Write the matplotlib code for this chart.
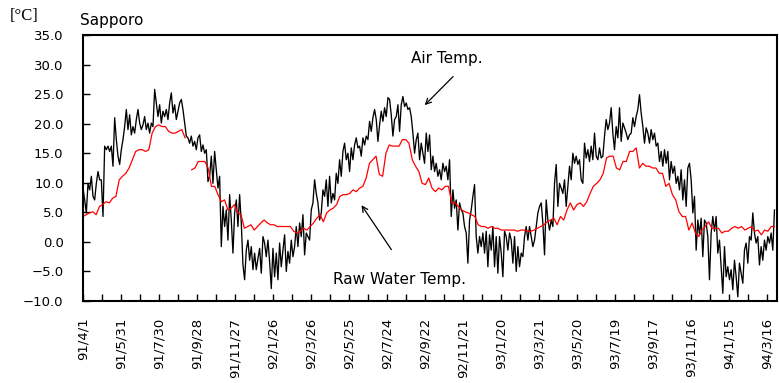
import numpy as np
import pandas as pd
import matplotlib
matplotlib.use('Agg')
import matplotlib.pyplot as plt
import matplotlib.dates as mdates

# period covered by the readings (daily series)
start = '1991-04-01'
last_reading = '1994-03-27'
end = '1994-03-31'

# air temperature [C], read roughly every 2.6 days
air_temp = [
    # 91/4 - 91/8
    9.1, 7.1, 4.9, 9.9, 8.8, 11.1, 7.7, 7.1, 9.9, 11.9, 10.5, 10.5, 4.3, 16.2, 15.6, 16.2, 15.3,
    16.2, 12.8, 21.0, 17.3, 14.5, 13.1, 15.6, 17.3, 19.5, 22.4, 19.0, 21.5, 18.1, 19.5, 18.4,
    20.7, 22.4, 20.1, 19.0, 19.8, 21.2, 19.0, 20.1, 18.4, 20.1, 19.5, 25.8, 23.5, 21.2, 23.2,
    20.1, 22.1, 21.2, 22.4, 20.7, 23.5, 25.2, 21.8, 23.2, 20.7, 22.1, 23.5, 24.1, 22.4, 20.1,
    17.9, 17.6, 16.7, 17.9, 16.2,
    # 91/8 - 92/2
    17.0, 15.6, 17.6, 18.1, 15.3, 16.4, 15.0, 15.6, 10.2, 11.1, 14.5, 9.9, 15.3, 12.2, 9.1, 11.1,
    -0.8, 6.0, 2.6, 5.4, 0.3, 8.0, 3.7, -1.9, 4.9, 7.1, 2.6, 8.0, 3.2, -3.9, -6.4, -1.4, 0.3,
    -3.1, -0.8, -4.7, -1.9, -4.7, -2.8, -1.1, -5.3, 0.9, -0.2, -2.5, 0.3, -3.3, -7.9, -1.1,
    -5.9, -1.9, -6.4, -0.2, -4.2, -1.4, 1.2, -5.0, -1.6, -3.6, 0.3, -2.5, -0.8, 2.6, -0.8, 3.2,
    0.9, 4.6, -2.2, 1.5, 0.9,
    # 92/3 - 92/9
    0.3, 5.4, 6.6, 10.5, 8.2, 6.6, 3.7, 4.9, 8.8, 7.7, 10.5, 6.0, 11.1, 6.6, 8.2, 7.1, 11.6, 9.9,
    13.9, 11.1, 15.3, 16.7, 13.9, 15.0, 11.9, 15.9, 13.9, 16.4, 17.6, 15.9, 16.2, 14.5, 17.6,
    16.4, 17.9, 17.3, 20.4, 18.7, 21.0, 22.4, 20.7, 17.0, 19.8, 22.1, 20.4, 22.7, 21.2, 24.4,
    24.1, 21.5, 17.9, 20.7, 21.2, 23.2, 18.7, 23.2, 24.6, 22.9, 23.5, 22.4, 22.7, 21.2, 18.4,
    15.0, 17.3, 18.4, 13.9, 16.7, 15.0,
    # 92/9 - 93/3
    13.3, 18.4, 15.3, 18.1, 12.2, 14.5, 11.9, 13.3, 11.1, 12.2, 10.5, 13.3, 11.9, 12.8, 10.5,
    13.9, 4.3, 8.8, 5.7, 7.1, 2.0, 6.6, 5.4, 4.9, 2.6, 1.5, -3.6, 3.7, 5.4, 7.7, 9.7, 0.9, -1.9,
    0.9, -0.8, 1.5, -1.9, 1.8, -4.2, 1.2, -1.4, 2.6, -4.2, 0.9, -5.3, 0.9, -1.9, -5.9, 1.8, 0.9,
    -1.4, 1.5, 0.3, -3.6, 0.9, -5.0, -0.8, -4.2, -1.9, -2.5, 0.9, 2.6, 0.3, 2.6, 0.9, -0.8, 0.3,
    2.6, 4.9,
    # 93/3 - 93/9
    6.0, 6.6, 3.2, -2.2, 7.1, 3.7, 2.0, 3.7, 2.6, 9.9, 13.1, 6.0, 9.9, 9.1, 8.2, 10.5, 6.0, 9.4,
    12.8, 10.5, 15.0, 13.3, 14.5, 13.1, 13.9, 10.5, 9.9, 16.7, 14.2, 15.6, 13.6, 16.2, 13.9,
    18.4, 14.5, 13.9, 15.9, 14.2, 14.5, 17.9, 20.7, 19.0, 20.1, 22.7, 18.4, 15.6, 19.5, 17.6,
    22.7, 17.0, 20.1, 19.3, 18.4, 17.3, 18.1, 18.4, 21.0, 19.5, 21.2, 22.4, 24.9, 21.8, 19.5,
    16.7, 19.3, 18.4, 16.7, 19.0, 17.3,
    # 93/9 - 94/3
    18.4, 16.2, 16.7, 13.6, 15.3, 12.8, 15.6, 13.3, 15.3, 10.5, 13.6, 11.6, 12.8, 9.9, 11.1,
    8.8, 12.2, 7.1, 10.5, 6.0, 12.5, 13.3, 10.5, 4.9, 7.7, -1.4, 3.7, 1.2, 4.0, -2.5, 3.7, 3.2,
    0.9, -6.4, 1.5, 4.3, 1.8, 4.3, -1.9, 0.3, -4.2, -8.7, -0.8, -5.9, -4.2, -6.4, -4.7, -8.1,
    -3.1, -5.9, -9.3, -3.6, -5.3, -7.0, -1.4, -0.2, -3.6, 0.9, 0.3, 4.9, 1.5, -0.2, 0.9, -3.9,
    -0.8, -3.1, 0.3, -1.4, 0.9, -0.2, 1.5, -1.4, 5.4,
]

# raw water temperature [C], read roughly every 5 days (nan = missing)
water_temp = [
    4.3, 4.6, 4.9, 5.1, 4.6, 6.0, 6.3, 6.8, 6.6, 7.4, 7.7, 10.5, 11.1, 11.6, 12.5, 13.9, 15.3,
    15.6, 15.6, 15.3, 15.6, 18.4, 19.5, 19.8, 19.5, 19.5, 18.7, 18.4, 18.4, 18.7, 19.0, 17.6,
    np.nan, 12.2,
    12.5, 13.6, 13.6, 13.6, 12.5, 9.4, 9.4, 8.0, 6.8, 7.1, 5.4, 5.7, 6.3, 4.9, 4.6, 2.3, 2.6,
    2.9, 2.0, 2.6, 3.2, 3.7, 3.2, 2.9, 2.9, 2.6, 2.6, 2.6, 2.6, 2.6, 1.8, 1.5, 1.8, 2.3, 2.0,
    2.6, 3.2, 4.0, 4.6, 3.4, 4.9, 5.4, 5.7, 6.3, 7.7, 8.0, 8.0, 8.2, 8.8, 8.5, 9.1, 9.4, 10.8,
    13.3, 13.9, 14.5, 11.4, 11.1, 15.0, 16.4, 16.2, 16.2, 16.2, 17.3, 17.3, 16.7, 13.9, 12.8,
    11.9, 9.9,
    9.7, 10.8, 9.1, 8.5, 9.1, 8.8, 9.4, 9.4, 6.6, 6.6, 6.0, 5.4, 5.1, 4.9, 4.6, 4.3, 2.9, 2.6,
    2.6, 2.3, 2.6, 2.3, 2.3, 2.0, 2.0, 2.0, 2.0, 2.0, 1.8, 2.0, 2.0, 1.8, 1.8, 2.0, 2.3,
    2.6, 2.9, 3.4, 3.7, 4.0, 2.9, 4.3, 3.7, 5.4, 6.6, 5.4, 6.3, 6.6, 6.0, 6.8, 8.2, 9.4, 9.9,
    10.5, 11.6, 14.2, 14.5, 14.5, 12.5, 12.2, 13.6, 13.6, 15.3, 15.3, 15.9, 12.5, 13.3, 12.8,
    12.8, 12.5,
    12.5, 11.6, 11.6, 9.4, 9.9, 8.0, 7.1, 5.1, 4.3, 4.3, 2.0, 3.2, 1.5, 0.9, 2.0, 2.6, 3.4, 2.3,
    2.3, 2.3, 1.5, 1.8, 1.8, 2.3, 2.6, 2.3, 2.6, 2.0, 2.3, 2.6, 1.8, 2.0, 1.2, 2.0, 1.8, 2.6, 2.6,
]

air_dates = pd.date_range(start, last_reading, periods=len(air_temp))
water_dates = pd.date_range(start, last_reading, periods=len(water_temp))

# ticks every 30 days, labels every 60 days
tick_dates = pd.date_range(start, periods=37, freq='30D')
tick_labels = [f"{d.year % 100}/{d.month}/{d.day}" if i % 2 == 0 else ''
               for i, d in enumerate(tick_dates)]

fig = plt.figure(figsize=(7.79, 3.83), dpi=100)
ax = fig.add_axes([83 / 779, 1 - 301 / 383, 694 / 779, 266 / 383])

ax.plot(air_dates, air_temp, color='black', lw=0.95)
ax.plot(water_dates, water_temp, color='#ff0000', lw=0.9)

ax.set_xlim(pd.Timestamp(start), pd.Timestamp(end))
ax.set_ylim(-10, 35)
ax.set_yticks(np.arange(-10, 36, 5))
ax.set_yticklabels([f"{v:.1f}".replace('-', '\u2212') for v in np.arange(-10, 36, 5)])
ax.set_xticks(tick_dates)
ax.set_xticklabels(tick_labels, rotation=90)

ax.tick_params(axis='both', direction='in', length=5, width=1, colors='black')
ax.tick_params(axis='y', pad=14, labelsize=9.5)
ax.tick_params(axis='x', pad=12, labelsize=9.5)
for s in ax.spines.values():
    s.set_linewidth(1.5)

def day(d):
    return mdates.date2num(pd.Timestamp(start) + pd.Timedelta(days=d))

# labels with arrows
ax.text(day(574), 31.0, 'Air Temp.', ha='center', va='center', fontsize=11)
ax.annotate('', xy=(day(536), 22.8), xytext=(day(587), 28.3),
            arrowprops=dict(arrowstyle='->', color='black', lw=0.9))
ax.text(day(500), -6.4, 'Raw Water Temp.', ha='center', va='center', fontsize=11)
ax.annotate('', xy=(day(437), 6.6), xytext=(day(489), -1.7),
            arrowprops=dict(arrowstyle='->', color='black', lw=0.9))

fig.text(10 / 779, 1 - 16 / 383, '[\u00b0C]', ha='left', va='center',
         fontsize=12, family='Liberation Serif')
fig.text(80 / 779, 1 - 20 / 383, 'Sapporo', ha='left', va='center', fontsize=11)

fig.savefig('out.png', dpi=100)
